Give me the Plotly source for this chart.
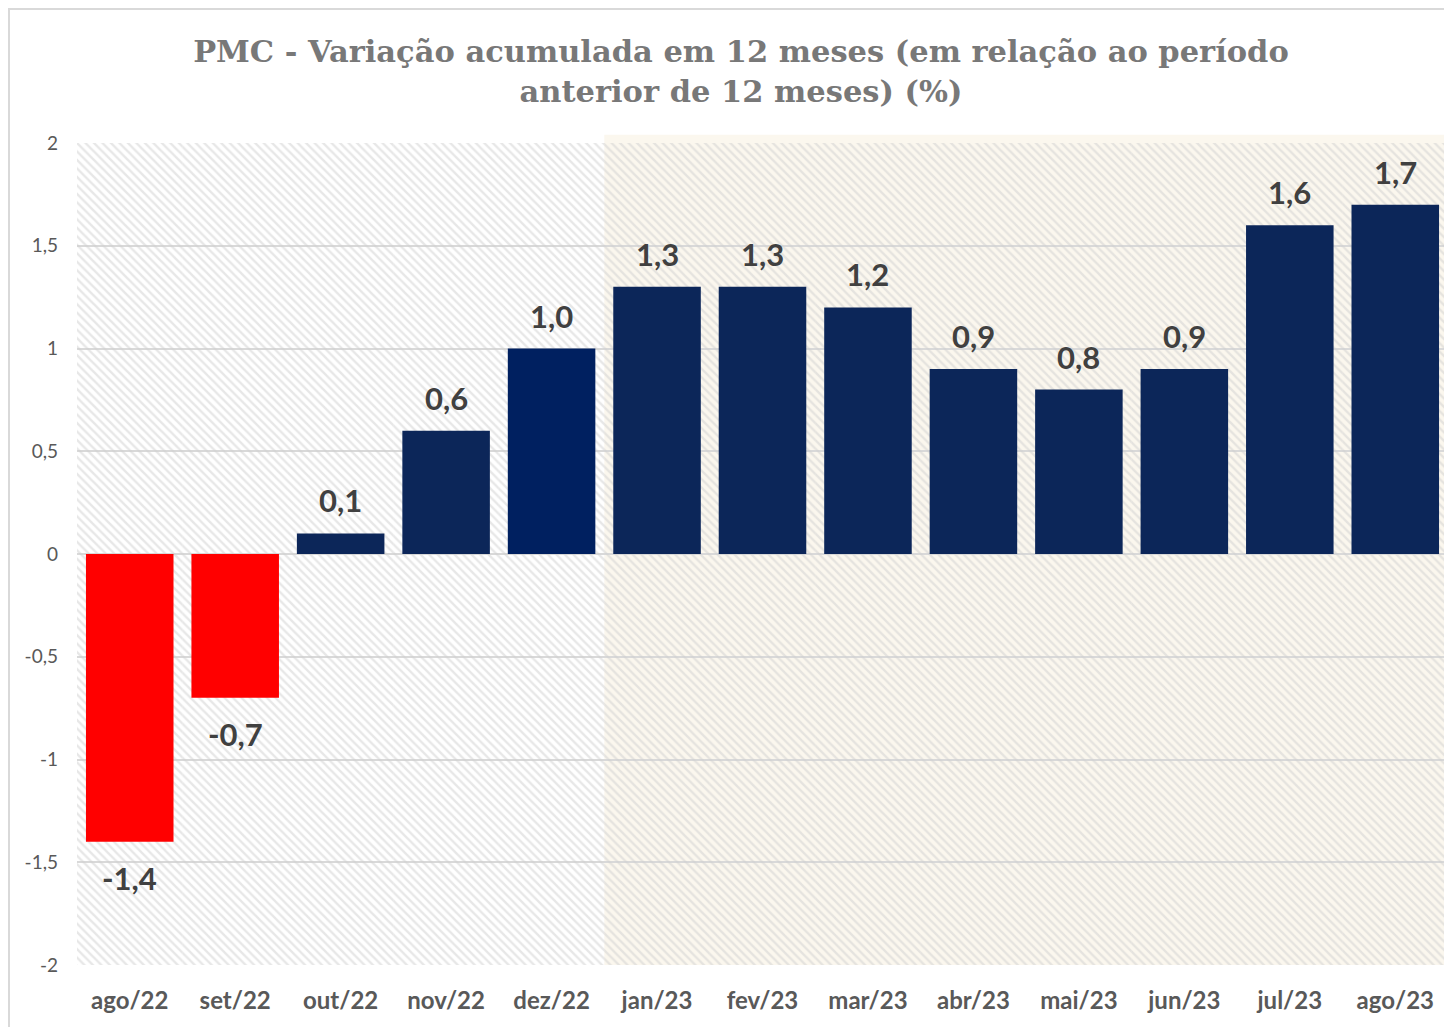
import plotly.graph_objects as go

categories = ["ago/22", "set/22", "out/22", "nov/22", "dez/22", "jan/23", "fev/23",
              "mar/23", "abr/23", "mai/23", "jun/23", "jul/23", "ago/23"]
values = [-1.4, -0.7, 0.1, 0.6, 1.0, 1.3, 1.3, 1.2, 0.9, 0.8, 0.9, 1.6, 1.7]
bar_colors = ["#ff0000", "#ff0000", "#0c2659", "#0c2659", "#002060", "#0c2659", "#0c2659",
              "#0c2659", "#0c2659", "#0c2659", "#0c2659", "#0c2659", "#0c2659"]
y_min, y_max = -2, 2
y_ticks = [-2, -1.5, -1, -0.5, 0, 0.5, 1, 1.5, 2]
y_tick_labels = ["-2", "-1,5", "-1", "-0,5", "0", "0,5", "1", "1,5", "2"]
highlight_start = "jan/23"


def fmt(v):
    return f"{v:.1f}".replace(".", ",")


fig = go.Figure()

# hatched background
fig.add_trace(go.Bar(
    x=categories, y=[y_max - y_min] * len(categories), base=[y_min] * len(categories),
    width=1, hoverinfo="skip", showlegend=False,
    marker=dict(color="rgba(0,0,0,0)", line=dict(width=0),
                pattern=dict(shape="\\", fgcolor="#d0d0d0", bgcolor="rgba(0,0,0,0)",
                             size=6, solidity=0.4)),
))

fig.add_trace(go.Bar(
    x=categories, y=values, width=0.83, showlegend=False,
    marker=dict(color=bar_colors, line=dict(width=0)),
))

for c, v in zip(categories, values):
    fig.add_annotation(x=c, y=v, text=fmt(v), showarrow=False, yanchor="middle",
                       yshift=33 if v >= 0 else -36,
                       font=dict(family="Lato", size=31, color="#404040", weight="bold"))

hi = categories.index(highlight_start)
fig.add_shape(type="rect", xref="x", yref="paper", x0=hi - 0.5, x1=len(categories) - 0.5,
              y0=0, y1=1.01, fillcolor="#fbf7ee", line=dict(width=0), layer="below")

# outer chart border
fig.add_shape(type="rect", xref="paper", yref="paper", x0=-0.0496, x1=1.01, y0=-0.1, y1=1.163,
              fillcolor="rgba(0,0,0,0)", line=dict(color="#d9d9d9", width=2), layer="below")

fig.update_layout(
    width=1444, height=1019,
    margin=dict(l=69, r=4, t=135, b=62, autoexpand=False),
    paper_bgcolor="white", plot_bgcolor="white",
    barmode="overlay",
    title=dict(text="PMC - Variação acumulada em 12 meses (em relação ao período<br>anterior de 12 meses) (%)",
               x=0.5076, xanchor="center", xref="container", y=0.947, yanchor="top",
               font=dict(family="DejaVu Serif", size=30.5, color="#787878", weight="bold")),
    xaxis=dict(type="category", showgrid=False, showline=False, ticks="", automargin=False,
               tickfont=dict(family="Lato", size=24, color="#595959", weight="bold"),
               ticklabelstandoff=19,
               range=[-0.5, len(categories) - 0.5]),
    yaxis=dict(range=[y_min, y_max], tickvals=y_ticks, ticktext=y_tick_labels, automargin=False,
               showgrid=True, gridcolor="#d9d9d9", gridwidth=1.5, zeroline=False,
               tickfont=dict(family="Lato", size=19, color="#595959"), ticklabelstandoff=18),
)

fig.write_html("out.html")
